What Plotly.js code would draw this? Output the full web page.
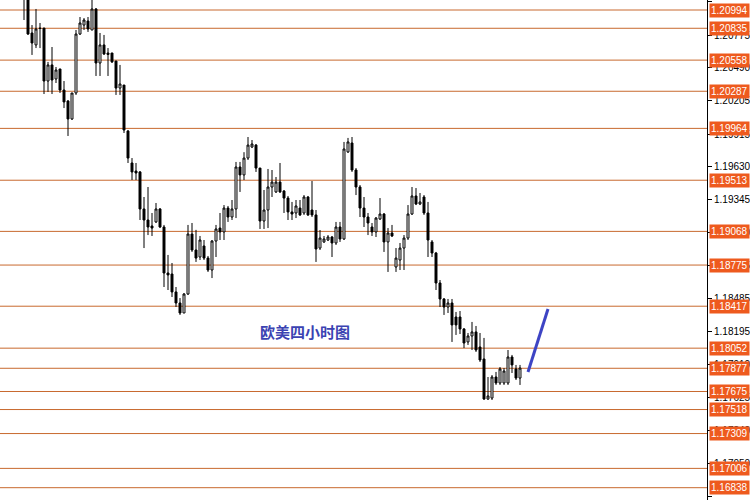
<!DOCTYPE html>
<html>
<head>
<meta charset="utf-8">
<script src="https://cdn.plot.ly/plotly-3.0.1.min.js"></script>
<style>html,body{margin:0;padding:0;background:#fff;}#chart{width:750px;height:500px;}</style>
</head>
<body>
<div id="chart"></div>
<script>
// Candle OHLC values (EUR/USD, 4H)
const openP = [
1.21120,1.21168,1.20794,1.20690,1.20837,1.20837,1.20376,1.20516,1.20394,1.20481,
1.20298,1.20202,1.20046,1.20272,1.20785,1.20863,1.20898,1.20820,1.21003,1.20533,
1.20690,1.20620,1.20620,1.20550,1.20315,1.20341,1.19941,1.19663,1.19593,1.19585,
1.19263,1.19167,1.19115,1.19150,1.19263,1.19106,1.18706,1.18697,1.18541,1.18445,
1.18358,1.18523,1.19045,1.18906,1.18845,1.18941,1.18836,1.18732,1.18984,1.19097,
1.19063,1.19271,1.19193,1.19263,1.19628,1.19559,1.19706,1.19802,1.19819,1.19619,
1.19158,1.19254,1.19454,1.19411,1.19497,1.19419,1.19358,1.19237,1.19228,1.19271,
1.19228,1.19367,1.19254,1.19211,1.18923,1.18976,1.18993,1.19019,1.18967,1.19106,
1.19002,1.19759,1.19837,1.19602,1.19454,1.19271,1.19193,1.19106,1.19063,1.19176,
1.19219,1.18976,1.19054,1.18758,1.18819,1.18923,1.19010,1.19219,1.19376,1.19306,
1.19367,1.19228,1.18976,1.18880,1.18619,1.18480,1.18410,1.18445,1.18323,1.18323,
1.18219,1.18106,1.18158,1.18193,1.18062,1.17958,1.17610,1.17618,1.17801,1.17749,
1.17749,1.17749,1.17975,1.17871,1.17792];
const highP = [
1.21160,1.21212,1.20863,1.21003,1.20881,1.20837,1.20542,1.20672,1.20498,1.20481,
1.20376,1.20211,1.20272,1.20820,1.20933,1.20924,1.20933,1.21081,1.21011,1.20794,
1.20777,1.20663,1.20620,1.20550,1.20516,1.20341,1.19950,1.19706,1.19663,1.19593,
1.19367,1.19454,1.19228,1.19315,1.19271,1.19124,1.18863,1.18793,1.18584,1.18488,
1.18532,1.19124,1.19141,1.19081,1.19028,1.18993,1.18854,1.18993,1.19124,1.19228,
1.19297,1.19289,1.19341,1.19672,1.19672,1.19757,1.19889,1.19863,1.19828,1.19619,
1.19428,1.19611,1.19602,1.19541,1.19663,1.19428,1.19376,1.19324,1.19341,1.19341,
1.19384,1.19376,1.19506,1.19254,1.19080,1.19028,1.19036,1.19028,1.19150,1.19150,
1.19846,1.19881,1.19889,1.19619,1.19471,1.19367,1.19228,1.19141,1.19193,1.19358,
1.19228,1.19097,1.19124,1.18923,1.18967,1.19036,1.19297,1.19454,1.19445,1.19402,
1.19384,1.19324,1.18993,1.18889,1.18645,1.18488,1.18480,1.18480,1.18367,1.18375,
1.18227,1.18184,1.18280,1.18245,1.18184,1.18141,1.17801,1.17818,1.17845,1.17888,
1.17879,1.18036,1.17993,1.17906,1.17906];
const lowP = [
1.20907,1.20777,1.20603,1.20663,1.20663,1.20263,1.20281,1.20263,1.20359,1.20272,
1.20141,1.19898,1.20037,1.20255,1.20777,1.20820,1.20803,1.20820,1.20420,1.20420,
1.20603,1.20420,1.20533,1.20255,1.20255,1.19924,1.19663,1.19515,1.19515,1.19167,
1.18923,1.19036,1.19028,1.19141,1.19097,1.18584,1.18558,1.18497,1.18410,1.18341,
1.18358,1.18515,1.18889,1.18802,1.18819,1.18819,1.18715,1.18662,1.18845,1.18993,
1.18993,1.19150,1.19167,1.19184,1.19411,1.19515,1.19689,1.19793,1.19585,1.19089,
1.19089,1.19097,1.19367,1.19402,1.19402,1.19228,1.19167,1.19167,1.19184,1.19202,
1.19211,1.19202,1.19193,1.18802,1.18906,1.18967,1.18984,1.18845,1.18950,1.18976,
1.18993,1.19750,1.19585,1.19384,1.19193,1.19106,1.19036,1.19028,1.19019,1.19167,
1.18889,1.18715,1.19019,1.18715,1.18732,1.18732,1.18993,1.19211,1.19297,1.19297,
1.19211,1.18845,1.18845,1.18558,1.18410,1.18341,1.18358,1.18106,1.18167,1.18175,
1.18053,1.18080,1.18036,1.18019,1.17932,1.17601,1.17601,1.17601,1.17732,1.17732,
1.17732,1.17732,1.17836,1.17775,1.17732];
const closeP = [
1.21140,1.20785,1.20707,1.20829,1.20833,1.20376,1.20516,1.20385,1.20472,1.20298,
1.20194,1.20046,1.20272,1.20785,1.20881,1.20907,1.20829,1.21003,1.20533,1.20690,
1.20611,1.20607,1.20542,1.20315,1.20350,1.19950,1.19706,1.19585,1.19576,1.19263,
1.19167,1.19106,1.19097,1.19263,1.19106,1.18706,1.18689,1.18541,1.18445,1.18358,
1.18523,1.19045,1.18906,1.18836,1.18993,1.18836,1.18732,1.18984,1.19089,1.19063,
1.19271,1.19193,1.19263,1.19628,1.19559,1.19706,1.19819,1.19828,1.19619,1.19158,
1.19254,1.19454,1.19497,1.19497,1.19411,1.19358,1.19237,1.19219,1.19289,1.19211,
1.19367,1.19211,1.19211,1.18915,1.19010,1.19002,1.19019,1.18967,1.19106,1.19002,
1.19785,1.19846,1.19602,1.19454,1.19271,1.19193,1.19141,1.19063,1.19184,1.19219,
1.18976,1.19054,1.19028,1.18836,1.18923,1.19010,1.19219,1.19376,1.19306,1.19324,
1.19228,1.18993,1.18880,1.18619,1.18480,1.18410,1.18445,1.18254,1.18254,1.18219,
1.18097,1.18158,1.18193,1.18036,1.17949,1.17610,1.17636,1.17801,1.17749,1.17871,
1.17853,1.17975,1.17906,1.17792,1.17879];

// Horizontal price levels (orange lines + labels)
const levels = [1.20994,1.20835,1.20558,1.20287,1.19964,1.19513,1.19068,1.18775,
                1.18417,1.18052,1.17877,1.17675,1.17518,1.17309,1.17006,1.16838];

// Price-axis ticks
const tickVals = [1.21065,1.20775,1.20490,1.20205,1.19915,1.19630,1.19345,1.19060,
                  1.18775,1.18485,1.18195,1.17910,1.17625,1.17340,1.17050,1.16765];

// Blue projection line (bar index, price)
const arrowX = [126, 131];
const arrowY = [1.17845, 1.18393];

// Chart caption
const captionText = '欧美四小时图';
const captionX = 70.25;
const captionY = 1.18201;

const barIdx = openP.map((_, i) => i);

const candle = {
  type: 'candlestick',
  x: barIdx, open: openP, high: highP, low: lowP, close: closeP,
  increasing: {line: {color: '#000000', width: 1}, fillcolor: '#ffffff'},
  decreasing: {line: {color: '#000000', width: 1}, fillcolor: '#000000'},
  whiskerwidth: 0,
  hoverinfo: 'skip',
  showlegend: false
};

const arrow = {
  type: 'scatter', mode: 'lines',
  x: arrowX, y: arrowY,
  line: {color: '#3d44c4', width: 3},
  hoverinfo: 'skip', showlegend: false
};

const shapes = levels.map(v => ({
  type: 'line', xref: 'paper', x0: 0, x1: 1, yref: 'y', y0: v, y1: v,
  line: {color: '#c8692e', width: 1}, layer: 'below'
}));

const annotations = levels.map(v => ({
  xref: 'paper', x: 1, xanchor: 'left', xshift: 2,
  yref: 'y', y: v, yanchor: 'middle',
  text: v.toFixed(5), showarrow: false,
  bgcolor: '#ee5a1e', borderpad: 1,
  font: {family: 'Liberation Sans, Arial, sans-serif', size: 10, color: '#ffffff'}
}));
annotations.push({
  xref: 'x', yref: 'y', x: captionX, y: captionY,
  text: captionText, showarrow: false,
  font: {family: 'Noto Sans CJK SC', size: 15, color: '#3b43b2', weight: 'bold'}
});

const layout = {
  width: 750, height: 500,
  margin: {l: 0, r: 43, t: 0, b: 0, pad: 0},
  paper_bgcolor: '#ffffff', plot_bgcolor: '#ffffff',
  showlegend: false,
  xaxis: {range: [-6, 170.75], visible: false, rangeslider: {visible: false}, fixedrange: true},
  yaxis: {
    side: 'right', range: [1.16731, 1.21081],
    showgrid: false, zeroline: false,
    showline: true, linecolor: '#000000', linewidth: 1,
    ticks: 'outside', ticklen: 4, tickcolor: '#000000',
    tickvals: tickVals, ticktext: tickVals.map(v => v.toFixed(5)),
    tickfont: {family: 'Liberation Sans, Arial, sans-serif', size: 10, color: '#000000'},
    fixedrange: true
  },
  shapes: shapes,
  annotations: annotations
};

Plotly.newPlot('chart', [candle, arrow], layout, {staticPlot: true, displayModeBar: false});
</script>
</body>
</html>
